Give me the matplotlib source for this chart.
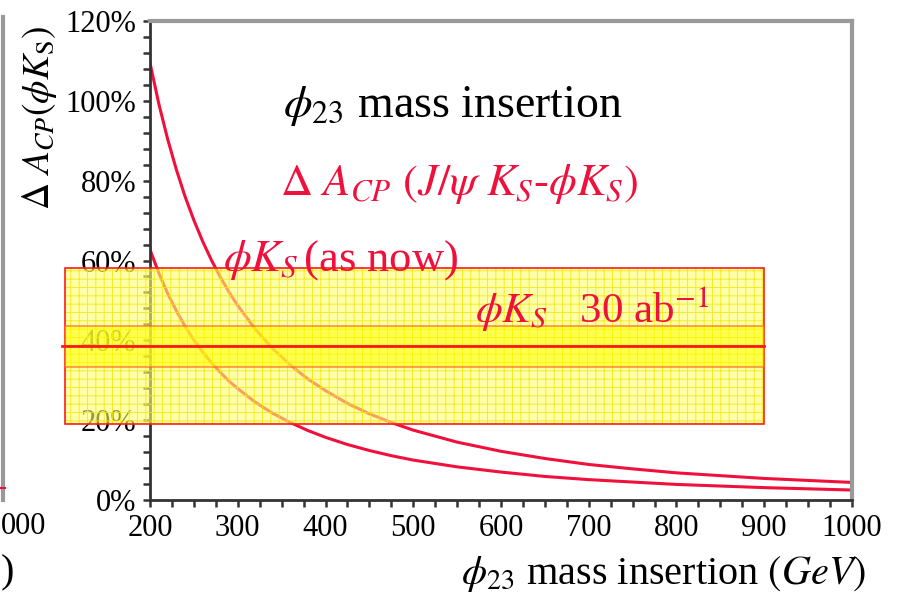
import numpy as np
import matplotlib
matplotlib.use("Agg")
import matplotlib.pyplot as plt
from matplotlib.patches import Rectangle
from matplotlib.ticker import MultipleLocator, FuncFormatter

# 数据: 质量插入 (GeV) 与 ΔA_CP (%)
mass = [200, 210, 220, 230, 240, 250, 260, 270, 280, 290, 300, 320, 340, 360, 380,
        400, 425, 450, 475, 500, 550, 600, 650, 700, 750, 800, 850, 900, 950, 1000]
acp_upper = [109.5, 99.3, 90.5, 82.8, 76.0, 70.1, 64.8, 60.1, 55.9, 52.1, 48.7, 42.8,
             37.9, 33.8, 30.3, 27.4, 24.2, 21.6, 19.4, 17.5, 14.5, 12.2, 10.4, 8.9,
             7.8, 6.8, 6.1, 5.4, 4.9, 4.4]
acp_lower = [62.7, 56.9, 51.8, 47.4, 43.5, 40.1, 37.1, 34.4, 32.0, 29.8, 27.9, 24.5,
             21.7, 19.4, 17.4, 15.7, 13.9, 12.4, 11.1, 10.0, 8.3, 7.0, 5.9, 5.1,
             4.5, 3.9, 3.5, 3.1, 2.8, 2.5]

# φK_S 误差带 (%)
band_center = 38.5
band_inner = 5.1     # 30 ab^-1
band_outer = 19.5    # as now
band_x = (103, 900)

RED = "#f0103c"

plt.rcParams["font.family"] = ["Liberation Serif", "DejaVu Serif"]
plt.rcParams["mathtext.fontset"] = "stix"
plt.rcParams["hatch.linewidth"] = 0.7

fig = plt.figure(figsize=(9.06, 5.93), dpi=100)
pos = [150 / 906, 93 / 593, 702 / 906, 479 / 593]
ax = fig.add_axes(pos)

ax.plot(mass, acp_upper, color=RED, lw=2.2)
ax.plot(mass, acp_lower, color=RED, lw=2.2)

ax.set_xlim(200, 1000)
ax.set_ylim(0, 120)
ax.xaxis.set_major_locator(MultipleLocator(100))
ax.xaxis.set_minor_locator(MultipleLocator(25))
ax.yaxis.set_major_locator(MultipleLocator(20))
ax.yaxis.set_minor_locator(MultipleLocator(4))
ax.yaxis.set_major_formatter(FuncFormatter(lambda v, p: f"{v:.0f}%"))

for s in ["left", "bottom"]:
    ax.spines[s].set_color("#333333")
    ax.spines[s].set_linewidth(2)
for s in ["top", "right"]:
    ax.spines[s].set_color("#999999")
    ax.spines[s].set_linewidth(3)
ax.tick_params(which="both", direction="out", length=5, width=1.8, color="#333333",
               top=False, right=False)
ax.tick_params(which="major", labelsize=22, pad=5)

ax.set_xlabel(r"$\phi_{23}$ mass insertion $(GeV)$", fontsize=29, labelpad=8,
              ha="right", x=1.02)
fig.text(40 / 906, 1 - 118 / 593, r"$\Delta\ A_{CP}(\phi K_{\rm S})$", fontsize=27,
         rotation=90, ha="center", va="center")

ax.text(351, 96, r"$\phi_{23}$ mass insertion", fontsize=33, va="baseline")
ax.text(348, 76.4, r"$\Delta\ A_{CP}\ (J/\psi\ K_S$-$\phi K_S)$", fontsize=32,
        color=RED, va="baseline")

# 覆盖层: 误差带画在刻度标签之上
ov = fig.add_axes(pos, zorder=5)
ov.set_xlim(ax.get_xlim())
ov.set_ylim(ax.get_ylim())
ov.axis("off")
w = band_x[1] - band_x[0]
ov.add_patch(Rectangle((band_x[0], band_center - band_outer), w, 2 * band_outer,
                       facecolor="#ffff70", edgecolor="none", alpha=0.6, clip_on=False))
ov.add_patch(Rectangle((band_x[0], band_center - band_outer), w, 2 * band_outer,
                       facecolor="none", edgecolor="#f2e800", hatch="++", lw=0,
                       alpha=0.8, clip_on=False))
ov.add_patch(Rectangle((band_x[0], band_center - band_outer), w, 2 * band_outer,
                       facecolor="none", edgecolor="#ff1a1a", lw=1.2, clip_on=False))
for y0 in [band_center - band_inner, band_center]:
    ov.add_patch(Rectangle((band_x[0], y0), w, band_inner,
                           facecolor="#ffff00", edgecolor="#ff5a1e", alpha=0.55,
                           lw=1.5, clip_on=False))
ov.plot([100, band_x[1]], [band_center, band_center], color="#ff1a1a", lw=2,
        clip_on=False)

ov.text(283, 57.6, r"$\phi K_S\,$(as now)", fontsize=32, color=RED, va="baseline",
        clip_on=False)
ov.text(570, 44.4, r"$\phi K_S$   30 ab$^{\mathrm{-1}}$", fontsize=31, color=RED,
        va="baseline", clip_on=False)

# 左侧相邻图的残余部分
fig.add_artist(plt.Line2D([3 / 906, 3 / 906], [1 - 500 / 593, 1 - 17 / 593],
                          color="#999999", lw=3))
fig.add_artist(plt.Line2D([1 / 906, 5 / 906], [1 - 488 / 593, 1 - 488 / 593],
                          color=RED, lw=1.5))
fig.text(1 / 906, 1 - 527 / 593, "000", fontsize=22, ha="left", va="center")
fig.text(1 / 906, 1 - 573 / 593, ")", fontsize=29, ha="left", va="center")

fig.savefig("out.png", dpi=100)
